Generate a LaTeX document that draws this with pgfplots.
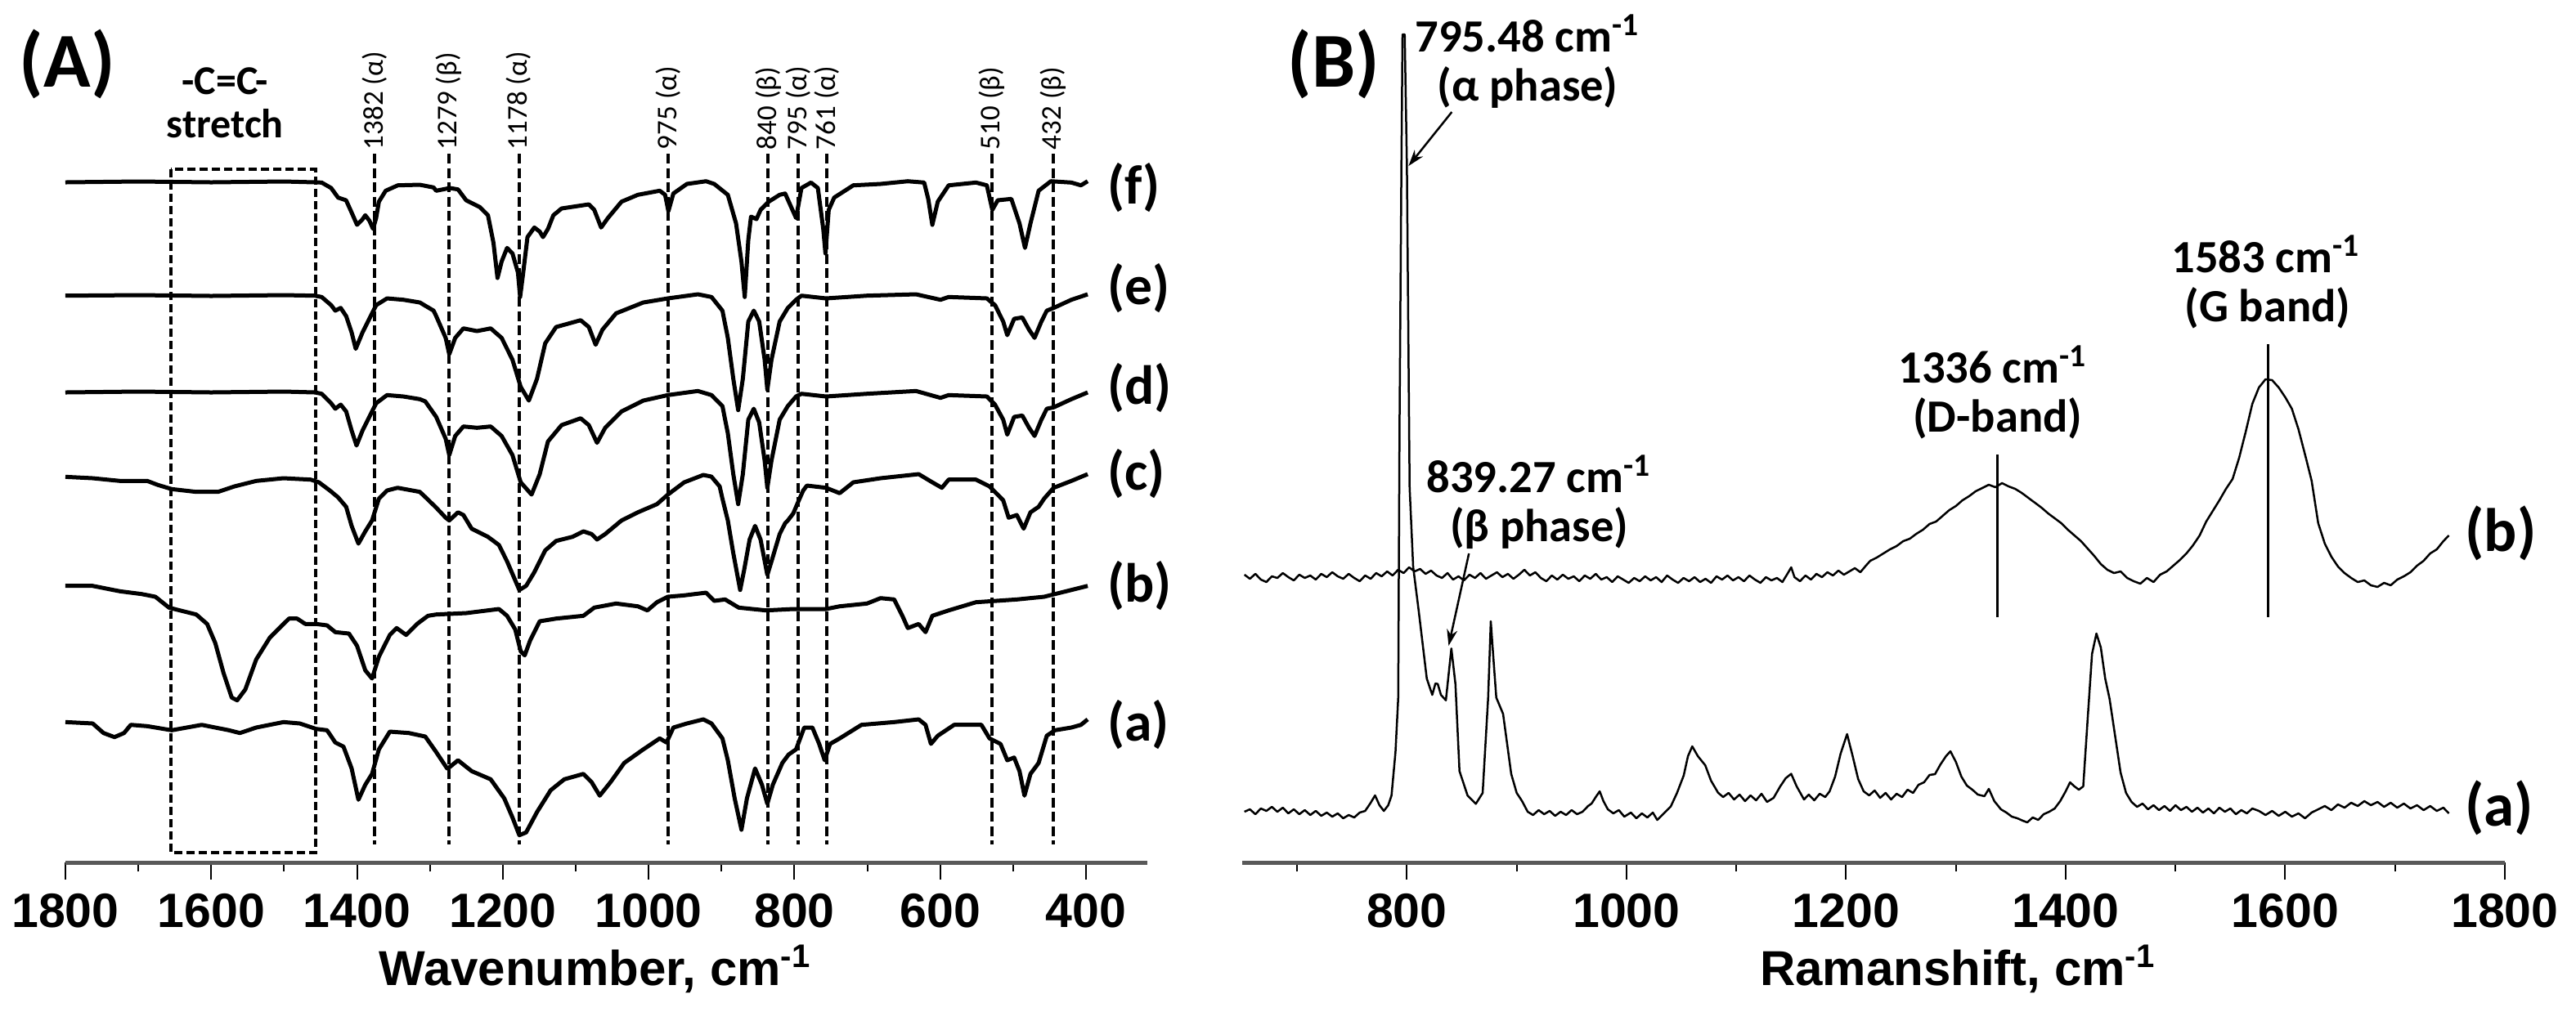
\documentclass[border=0pt]{standalone}
\usepackage{fontspec}
\setmainfont{Liberation Sans}
\newfontfamily\calfont{Carlito}
\usepackage{pgfplots}
\pgfplotsset{compat=1.18}
\usetikzlibrary{arrows.meta}

% 1 px of the 3150x1248 reference = 0.2pt
\tikzset{
  guide/.style={black, line width=0.8pt, dash pattern=on 2.4pt off 1.1pt},
  peaklab/.style={rotate=90, anchor=west, inner sep=0pt, font=\calfont\fontsize{7}{7}\selectfont},
  curvelab/.style={anchor=west, inner sep=0pt, font=\calfont\bfseries\fontsize{13.5}{14}\selectfont},
  note/.style={anchor=base, inner sep=0pt, font=\calfont\bfseries\fontsize{11.3}{12}\selectfont},
}
\pgfplotsset{
  spec/.style={
    scale only axis, height=211pt, ymin=-1055, ymax=0,
    axis x line=bottom, axis y line=none,
    x axis line style={-, line width=1pt, draw=black!65},
    tick align=outside, major tick length=4.2pt, minor tick length=2.2pt,
    tick style={black, line width=0.4pt},
    xticklabel style={font=\bfseries\fontsize{11.8}{12}\selectfont},
    /pgf/number format/assume math mode=true,
    /pgf/number format/1000 sep={},
    xlabel style={font=\bfseries\fontsize{12}{13}\selectfont, anchor=base, yshift=-30pt},
    clip=false,
  },
}

\begin{document}
\begin{tikzpicture}
\useasboundingbox (0,0) rectangle (630pt,-249.6pt);

% ---------------- (A) FTIR ----------------
\begin{axis}[spec,
  at={(16pt,-211pt)}, anchor=south west, width=264.6pt,
  xmin=316, xmax=1800, x dir=reverse,
  xtick={400,600,...,1800}, minor xtick={500,700,...,1700},
  xlabel={Wavenumber, cm\textsuperscript{-1}},
  xlabel style={at={(axis description cs:0.49,0)}},
]
% (f)
\addplot[black, line width=1pt, mark=none, line join=round] coordinates {
(1800,-223)(1700,-222)(1600,-223)(1500,-222)(1458,-223)
(1448.5,-223.3)(1435.5,-230)(1426,-241.7)(1415,-245)(1407.4,-260)(1400,-275)(1392.5,-268.3)(1388.7,-263.3)(1383,-270)(1378,-280)(1373.8,-266.7)(1370,-246.7)(1360.7,-233.3)(1344,-226.7)(1314,-226)(1295,-229.3)
(1291.4,-233.3)(1272.8,-230)(1261.5,-231.7)(1250.3,-245)(1231.6,-253.3)(1220.4,-263.3)(1212.9,-296.7)(1207.3,-340)(1201.7,-320)(1194.2,-303.3)(1186.8,-310)(1179.3,-333.3)(1176.3,-363.3)(1172.5,-336.7)(1166.2,-290)(1156.8,-278.3)(1149.4,-283.3)(1144.9,-290)(1138.1,-280)(1130.7,-263.3)(1119.4,-255)(1082.1,-250)(1074.6,-256.7)(1065.2,-278.3)(1055.9,-266.7)(1037.2,-246.7)(1014.8,-238.3)(984.8,-233.3)(977.4,-238.3)(972.9,-258.3)(966.1,-236.7)(947.5,-225)(921.3,-221.7)(910.1,-225)(891.4,-238.3)(880.1,-273.3)(872.7,-320)(868.2,-363.3)(863.3,-293.3)(859.6,-265)(852.1,-268)(846.5,-256.7)(835.3,-246.7)(820.3,-238.3)
(812.8,-236.7)(797.8,-266.7)(790.4,-230)(777.3,-223.3)(767.9,-230)(760.5,-280)(757.5,-310)(753,-256.7)(745.5,-241.7)(719.3,-226.7)(681.9,-225)(644.6,-221.7)(622.1,-223.3)(616.5,-243.3)(610.9,-275)(603.4,-246.7)(588.5,-226.7)(551.1,-223.3)(536.1,-226.7)(528.6,-256.7)(521.2,-245)(502.5,-243.3)(491.3,-273.3)(483.8,-303.3)(476.3,-273.3)(465.1,-233.3)(448.3,-221.7)(420.2,-223.3)(407.1,-226.7)(397.8,-221.7)
};
% (e)
\addplot[black, line width=1pt, mark=none, line join=round] coordinates {
(1800,-361.7)(1700,-361)(1600,-362)(1500,-361)(1458,-361.7)
(1448.5,-363.3)(1435.5,-373.3)(1429.8,-380)(1422.4,-376.7)(1414.9,-386.7)(1407.4,-406.7)(1401.8,-426.7)(1392.5,-406.7)(1383.1,-390)(1373.8,-373.3)(1358.8,-365)(1336.4,-366.7)(1313.9,-370)(1306.4,-374)(1295,-380)
(1291.4,-386.7)(1278.4,-413.3)(1273.5,-433.3)(1265.3,-413.3)(1254.1,-401.7)(1235.4,-405)(1216.7,-401.7)(1201.7,-413.3)(1186.8,-440)(1175.5,-473.3)(1164.3,-490)(1153.1,-463.3)(1141.9,-420)(1126.9,-400)(1093.3,-391.7)(1082.1,-400)(1072.7,-421.7)(1063.4,-403.3)(1044.7,-383.3)(1007.3,-370)(973.6,-365)(932.5,-360)(913.8,-363.3)(898.8,-380)(891.4,-413.3)(883.9,-463.3)(877.2,-501.7)(870.8,-463.3)(863.3,-393.3)(855.8,-380)(848.4,-393.3)(840.9,-440)(837.2,-476.7)(831.5,-440)(820.3,-393.3)(809.1,-376.7)
(797.8,-366.7)(790.4,-361.7)(756.7,-365)(700.6,-361.7)(633.3,-360)(599.7,-366.7)(588.5,-363.3)(536.1,-365)(524.9,-373.3)(513.7,-393.3)(508.1,-410)(498.7,-390)(487.5,-388.3)(478.2,-403.3)(470.7,-413.3)(461.3,-393.3)(453.9,-380)(444.5,-376.7)(420.2,-366.7)(397.8,-360)
};
% (d)
\addplot[black, line width=1pt, mark=none, line join=round] coordinates {
(1800,-480)(1700,-479)(1600,-480)(1500,-479)(1458,-480)
(1448.5,-481.7)(1435.5,-493.3)(1429.8,-500)(1422.4,-495)(1414.9,-503.3)(1407.4,-526.7)(1400.7,-545)(1392.5,-526.7)(1383.1,-510)(1373.8,-493.3)(1358.8,-483.3)(1336.4,-485)(1313.9,-488.3)(1306.4,-491)
(1291.4,-510)(1278.4,-536.7)(1273.5,-556.7)(1265.3,-533.3)(1254.1,-521.7)(1235.4,-523.3)(1216.7,-521.7)(1201.7,-533.3)(1186.8,-556.7)(1175.5,-590)(1160.6,-605)(1149.4,-580)(1138.1,-540)(1119.4,-520)(1093.3,-511.7)(1082.1,-520)(1070.8,-541.7)(1059.6,-523.3)(1037.2,-503.3)(1007.3,-490)(973.6,-483.3)(932.5,-478.3)(913.8,-483.3)(898.8,-496.7)(891.4,-530)(883.9,-580)(877.2,-616.7)(870.8,-580)(863.3,-513.3)(855.8,-500)(848.4,-516.7)(840.9,-563.3)(837.2,-596.7)(831.5,-563.3)(820.3,-513.3)(809.1,-496.7)
(797.8,-485)(790.4,-481.7)(756.7,-485)(700.6,-481.7)(633.3,-478.3)(599.7,-486.7)(588.5,-483.3)(536.1,-485)(524.9,-495)(513.7,-513.3)(508.1,-531.7)(498.7,-510)(487.5,-508.3)(478.2,-523.3)(470.7,-533.3)(461.3,-513.3)(453.9,-500)(444.5,-498.3)(420.2,-488.3)(397.8,-480)
};
% (c)
\addplot[black, line width=1pt, mark=none, line join=round] coordinates {
(1800,-583.3)(1762.6,-585)(1725.2,-588.3)(1687.8,-588.3)(1672.9,-593.3)(1654.2,-598.3)(1620.5,-601.7)(1590.6,-601.7)(1568.2,-595)(1538.3,-588.3)(1500.9,-585)(1463.5,-586.7)(1452.3,-590)(1437.3,-600)(1426.1,-608.3)(1414.9,-620)(1407.4,-643.3)(1398.1,-665)(1388.7,-650)(1379.4,-636.7)(1370,-610)(1358.8,-600)(1344.4,-596.7)(1313.9,-601.7)(1306.4,-608)
(1291.4,-621)(1278.4,-633.3)(1273.5,-636.7)(1261.5,-626.7)(1254.1,-630)(1242.8,-646.7)(1220.4,-656.7)(1205.4,-666.7)(1194.2,-686.7)(1183,-710)(1177.4,-721.7)(1168.1,-716.7)(1156.8,-700)(1141.9,-673.3)(1126.9,-661.7)(1104.5,-656.7)(1089.5,-650)(1078.3,-653.3)(1070.8,-660)(1059.6,-653.3)(1037.2,-636.7)(1014.8,-626.7)(988.6,-616.7)(973.6,-605)(951.2,-590)(925,-581)(914,-583)(902.6,-595)
(898.8,-610)(891.4,-636.7)(883.9,-676.7)(874.5,-721.7)(868.9,-696.7)(861.5,-660)(854,-643.3)(846.5,-660)(837.2,-703.3)(831.5,-686.7)(820.3,-653.3)(812.8,-640)(809.1,-636.7)(801.6,-628)(794,-612)(788,-600)(782.9,-594)
(756.7,-596.7)(738,-603.3)(719.3,-590)(681.9,-585)(629.6,-580)(610.9,-590)(597.8,-596.7)(588.5,-586.7)(551.1,-586.7)(532.4,-595)(513.7,-612)(506.2,-633.3)(495,-630)(485.6,-646.7)(476.3,-626.7)(465.1,-620)(457.6,-610)(444.5,-596.7)(420.2,-588.3)(397.8,-580)
};
% (b)
\addplot[black, line width=1pt, mark=none, line join=round] coordinates {
(1800,-716.7)(1762.6,-716.7)(1725.2,-723.3)(1695.3,-726.7)(1676.6,-730)(1657.9,-743.3)(1643,-746.7)(1620.5,-751.7)(1605.6,-763.3)(1594.4,-786.7)(1583.1,-823.3)(1571.9,-853.3)(1564.4,-856.7)(1553.2,-843.3)(1538.3,-806.7)(1519.6,-780)(1493.4,-756.7)(1482.2,-756.7)(1470.9,-763.3)(1456,-763.3)(1441.1,-765)(1429.8,-773.3)(1411.1,-775)(1400,-790)(1388.7,-820)(1379.4,-830)(1370,-803.3)(1355,-776.7)(1345.7,-768.3)(1332.6,-776.7)(1317.7,-763.3)(1302.7,-753.3)
(1291.4,-751.7)(1250.3,-750)(1205.4,-745)(1194.2,-753.3)(1183,-770)(1175.5,-796.7)(1170,-801.7)(1162.5,-783.3)(1149.4,-760)(1126.9,-756.7)(1089.5,-753.3)(1074.6,-743.3)(1044.7,-738.3)(1014.8,-741.7)(1001.7,-746.7)(988.6,-736.7)(973.6,-730)(951.2,-728.3)(921.3,-725)(910.1,-735)(895.1,-733.3)(876.4,-743.3)(839,-746.7)(801.6,-745)
(756.7,-745)(738,-741.7)(700.6,-738.3)(681.9,-731.7)(663.2,-733.3)(652,-753.3)(644.5,-768.3)(629.6,-763.3)(620.2,-773.3)(610.9,-753.3)(588.5,-746.7)(551.1,-736.7)(495,-733.3)(457.6,-730)(420.2,-721.7)(397.8,-716.7)
};
% (a)
\addplot[black, line width=1pt, mark=none, line join=round] coordinates {
(1800,-883.3)(1762.6,-885)(1747.7,-896.7)(1732.7,-901.7)(1719.6,-896.7)(1710.3,-886.7)(1687.8,-888.3)(1654.2,-893.3)(1613,-886.7)(1575.7,-893.3)(1560.7,-896.7)(1538.3,-890)(1500.9,-883.3)(1478.5,-885)(1456,-891.7)(1441.1,-893.3)(1429.8,-908.3)(1418.6,-913.3)(1407.4,-940)(1398.1,-978.3)(1388.7,-960)(1379.4,-946.7)(1370,-916.7)(1355,-895)(1328.9,-896.7)(1306.4,-901)
(1291.4,-920)(1276.5,-940)(1272.8,-938.3)(1261.5,-930)(1242.8,-943.3)(1216.7,-953.3)(1198,-976.7)(1186.8,-1000)(1177.4,-1021.7)(1168.1,-1018.3)(1153.1,-993.3)(1134.4,-966.7)(1115.7,-953.3)(1089.5,-946.7)(1078.3,-956.7)(1067.1,-973.3)(1052.2,-956.7)(1033.5,-933.3)(1007.3,-916.7)(984.8,-903.3)(975.5,-908.3)(966.1,-890)(947.5,-885)(925,-880)(913.8,-885)(898.8,-903.3)(891.4,-930)(882,-976.7)(872.7,-1015)(865.2,-976.7)(854,-940)(844.6,-960)(837.2,-983.3)(829.7,-960)(816.6,-933.3)(808,-923)
(797.8,-916.7)(786.6,-890)(775.4,-890)(766.1,-910)(758.6,-930)(751.1,-910)(738,-903.3)(708.1,-886.7)(663.2,-883.3)(629.6,-880)(620.2,-886.7)(612.8,-910)(603.4,-900)(581,-886.7)(543.6,-886.7)(532.4,-903.3)(517.4,-910)(508.1,-930)(498.7,-926.7)(491.3,-943.3)(484.5,-973.3)(476.3,-946.7)(465.1,-933.3)(453.9,-900)(442.7,-893.3)(420.2,-890)(407.1,-886.7)(397.8,-880)
};

% C=C stretch box and band guides
\draw[black, line width=0.8pt, dash pattern=on 2pt off 1pt] (axis cs:1655,-207) rectangle (axis cs:1457,-1043);
\foreach \w/\t in {1376/1382 (α), 1274/1279 (β), 1178/1178 (α), 973/975 (α), 836/840 (β), 795/795 (α), 756/761 (α), 529/510 (β), 445/432 (β)} {
  \edef\temp{\noexpand\draw[guide] (axis cs:\w,-188) -- (axis cs:\w,-1033);}\temp
  \edef\temp{\noexpand\node[peaklab] at (axis cs:\w,-184) {\t};}\temp
}
\node[note, font=\calfont\bfseries\fontsize{10}{10}\selectfont] at (axis cs:1581,-115) {-C=C-};
\node[note, font=\calfont\bfseries\fontsize{10}{10}\selectfont] at (axis cs:1581,-168) {stretch};

\node[curvelab] at (axis cs:372,-230) {(f)};
\node[curvelab] at (axis cs:372,-353) {(e)};
\node[curvelab] at (axis cs:372,-475) {(d)};
\node[curvelab] at (axis cs:372,-580) {(c)};
\node[curvelab] at (axis cs:372,-717) {(b)};
\node[curvelab] at (axis cs:372,-887) {(a)};

\node[anchor=base west, inner sep=0pt, font=\calfont\bfseries\fontsize{19}{19}\selectfont] at (axis cs:1864,-106) {(A)};
\end{axis}

% ---------------- (B) Raman ----------------
\begin{axis}[spec,
  at={(303.8pt,-211pt)}, anchor=south west, width=308.8pt,
  xmin=650, xmax=1800,
  xtick={800,1000,...,1800}, minor xtick={700,900,...,1700},
  xlabel={Ramanshift, cm\textsuperscript{-1}},
  xlabel style={at={(axis description cs:0.567,0)}},
]
% (b) PVDF/graphene
\addplot[black, line width=0.5pt, mark=none, line join=round] coordinates {
(652,-703)(657,-708)(662,-702)(667,-709)(672,-712)(677,-705)(682,-707)(687,-701)(692,-706)(697,-710)(702,-703)(707,-707)(712,-704)(717,-709)(722,-702)(727,-706)(732,-700)(737,-705)(742,-708)(747,-702)(752,-707)(757,-711)(762,-704)(767,-708)(772,-701)(777,-705)(782,-699)(787,-704)(792,-697)(797,-701)(802,-694)(807,-699)(812,-696)(817,-702)(822,-698)(827,-704)(832,-707)(837,-701)(842,-709)(847,-705)(852,-710)(857,-703)(862,-707)(867,-701)(872,-708)(877,-704)(882,-700)(887,-706)(892,-702)(897,-708)(902,-703)(907,-697)(912,-704)(917,-700)(922,-707)(927,-711)(932,-704)(937,-709)(942,-703)(947,-708)(952,-705)(957,-711)(962,-704)(967,-708)(972,-702)(977,-709)(982,-706)(987,-712)(992,-705)(997,-709)(1002,-713)(1007,-707)(1012,-711)(1017,-705)(1022,-710)(1027,-706)(1032,-712)(1037,-704)(1042,-709)(1047,-713)(1052,-707)(1057,-711)(1062,-706)(1067,-712)(1072,-708)(1077,-713)(1082,-705)(1087,-709)(1092,-704)(1097,-710)(1102,-706)(1107,-711)(1112,-704)(1117,-709)(1122,-713)(1127,-706)(1132,-710)(1137,-707)(1142,-712)(1147,-701)(1150,-694)(1153,-706)(1158,-711)(1163,-704)(1168,-709)(1173,-702)(1178,-706)(1183,-700)(1188,-704)(1193,-698)(1198,-703)(1203,-699)(1208,-695)(1213,-700)(1218,-692)(1222,-686)
(1228,-682)(1234,-677)(1240,-672)(1246,-668)(1252,-662)(1258,-659)(1264,-653)(1270,-648)(1276,-641)(1282,-638)(1288,-631)(1294,-624)(1300,-619)(1306,-612)(1312,-607)(1318,-601)(1324,-597)(1330,-593)(1336,-596)(1342,-591)(1348,-595)(1354,-598)(1360,-603)(1366,-609)(1372,-615)(1378,-621)(1384,-628)(1390,-634)(1396,-640)(1402,-648)(1408,-655)(1414,-662)(1420,-671)(1426,-680)(1432,-690)(1438,-697)(1444,-701)(1450,-699)(1456,-707)(1462,-711)(1468,-714)(1474,-707)(1480,-712)(1486,-703)(1492,-699)(1498,-692)(1504,-685)(1510,-677)(1516,-667)(1522,-655)(1528,-638)(1534,-625)(1540,-612)(1546,-598)(1552,-586)(1558,-560)(1564,-528)(1570,-494)(1576,-474)(1582,-464)(1588,-465)(1594,-474)(1600,-486)(1606,-500)(1612,-525)(1618,-556)(1624,-588)(1630,-640)(1636,-665)(1642,-681)(1648,-693)(1654,-701)(1660,-707)(1666,-712)(1672,-710)(1678,-716)(1684,-718)(1690,-713)(1696,-716)(1702,-709)(1708,-705)(1714,-700)(1720,-692)(1726,-686)(1732,-677)(1738,-672)(1744,-662)(1749,-655)
};
% (a) PVDF
\addplot[black, line width=0.5pt, mark=none, line join=round] coordinates {
(652,-993)(657,-990)(662,-996)(667,-989)(672,-992)(677,-987)(682,-993)(687,-988)(692,-995)(697,-990)(702,-996)(707,-991)(712,-997)(717,-992)(722,-998)(727,-994)(732,-999)(737,-995)(742,-1001)(747,-997)(752,-1000)(757,-994)(762,-992)(767,-982)(771,-973)(775,-985)(779,-992)(783,-985)(786,-973)
(789.6,-920)(792.1,-853.3)(793.3,-520)(795,-203)(796,-42)(798,-42)(800,-203)(802,-520)(802.5,-597)(805.7,-693.3)(810.7,-746.7)(818.1,-830)(823.1,-850)(826,-836)(828.1,-836.7)(831,-850)(835.5,-856.7)(840.5,-793.3)(844.2,-836.7)(847.9,-943.3)(855.3,-973.3)(862.8,-983.3)(869,-970)(874,-853.3)(876.4,-760)(878.5,-800)(881.4,-853.3)(887.6,-873.3)(895,-946.7)
(900,-970)(904.9,-980)(910,-993)(914.9,-997)(920,-991)(925,-996)(930,-992)(935,-998)(940,-993)(945,-997)(950,-991)(955,-996)(960,-993)(965,-986)(968.2,-983)(972,-975)(975.6,-968)(979,-980)(983,-990)(988,-995)(993,-991)(998,-999)(1004,-994)(1009,-1001)(1014,-995)(1019,-1000)(1024,-994)(1028,-1003)(1034,-995)
(1040.3,-986.6)(1046,-970)(1052.1,-948.7)(1056,-925)(1059.9,-913)(1065,-925)(1071.7,-936.1)(1077,-955)(1083.4,-969.7)(1088,-975)(1093,-970)(1098,-978)(1103,-972)(1108,-980)(1113,-973)(1118,-979)(1123,-971)(1128,-981)(1134,-976)(1140,-962)(1145,-952)(1150,-946.6)(1155,-962)(1161.7,-978)(1166,-972)(1171,-979)(1176,-971)(1181,-975)(1185,-968)(1190,-950)(1195,-922)(1200.9,-898)(1206,-925)(1211,-953)(1216,-968)(1221,-973)(1226,-967)(1231,-976)(1236,-970)(1241,-978)(1246,-971)(1251,-975)(1256,-966)(1261,-970)(1266,-960)(1271,-957)(1276,-948)(1281,-947)(1286,-935)(1291,-925)(1295,-919)(1300,-932)(1305,-950)(1310,-961)(1315,-966)(1320,-972)(1326,-974)(1330,-965)(1335,-980)(1341,-990)(1346,-994)(1351,-999)(1356,-1001)(1361,-1004)(1365,-1006)(1370,-1000)(1375,-1003)(1380,-996)(1385,-993)(1390,-989)(1395,-980)(1400,-968)(1404,-957)(1408,-962)(1412,-966)(1416,-962)(1420,-880)(1424,-800)(1428,-775)(1432,-792)(1436,-830)(1440,-855)(1445,-900)(1450,-945)(1455,-970)(1460,-981)(1465,-987)(1470,-983)(1475,-990)(1480,-985)(1485,-991)(1490,-986)(1495,-992)(1500,-985)(1505,-991)(1510,-987)(1515,-993)(1520,-988)(1525,-994)(1530,-989)(1535,-995)(1540,-988)(1545,-993)(1550,-989)(1555,-996)(1560,-991)(1565,-995)(1570,-989)(1576,-992)(1582,-997)(1588,-992)(1594,-998)(1600,-993)(1606,-999)(1612,-995)(1618,-1001)(1624,-994)(1630,-990)(1636,-986)(1642,-991)(1648,-984)(1654,-988)(1660,-982)(1666,-986)(1672,-980)(1678,-985)(1684,-981)(1690,-987)(1696,-982)(1702,-988)(1708,-983)(1714,-989)(1720,-985)(1726,-991)(1732,-986)(1738,-992)(1744,-988)(1749,-995)
};

\draw[-{Stealth[length=4pt,width=2.6pt]}, line width=0.5pt] (axis cs:840.9,-137) -- (axis cs:801.5,-203);
\draw[-{Stealth[length=4pt,width=2.6pt]}, line width=0.5pt] (axis cs:856.5,-677) -- (axis cs:838,-790);
\draw[line width=0.5pt] (axis cs:1337.9,-556) -- (axis cs:1337.9,-755);
\draw[line width=0.5pt] (axis cs:1584.5,-421) -- (axis cs:1584.5,-755);

\node[note] at (axis cs:910,-63) {795.48 cm\textsuperscript{-1}};
\node[note] at (axis cs:910,-123) {(α phase)};
\node[note] at (axis cs:920.5,-602) {839.27 cm\textsuperscript{-1}};
\node[note] at (axis cs:920.5,-662) {(β phase)};
\node[note] at (axis cs:1334,-468) {1336 cm\textsuperscript{-1}};
\node[note] at (axis cs:1338,-528) {(D-band)};
\node[note] at (axis cs:1582.7,-333) {1583 cm\textsuperscript{-1}};
\node[note] at (axis cs:1584,-393) {(G band)};

\node[curvelab, font=\calfont\bfseries\fontsize{15}{15}\selectfont] at (axis cs:1763,-652) {(b)};
\node[curvelab, font=\calfont\bfseries\fontsize{15}{15}\selectfont] at (axis cs:1763,-988) {(a)};

\node[anchor=base west, inner sep=0pt, font=\calfont\bfseries\fontsize{19}{19}\selectfont] at (axis cs:690.6,-106) {(B)};
\end{axis}
\end{tikzpicture}
\end{document}
